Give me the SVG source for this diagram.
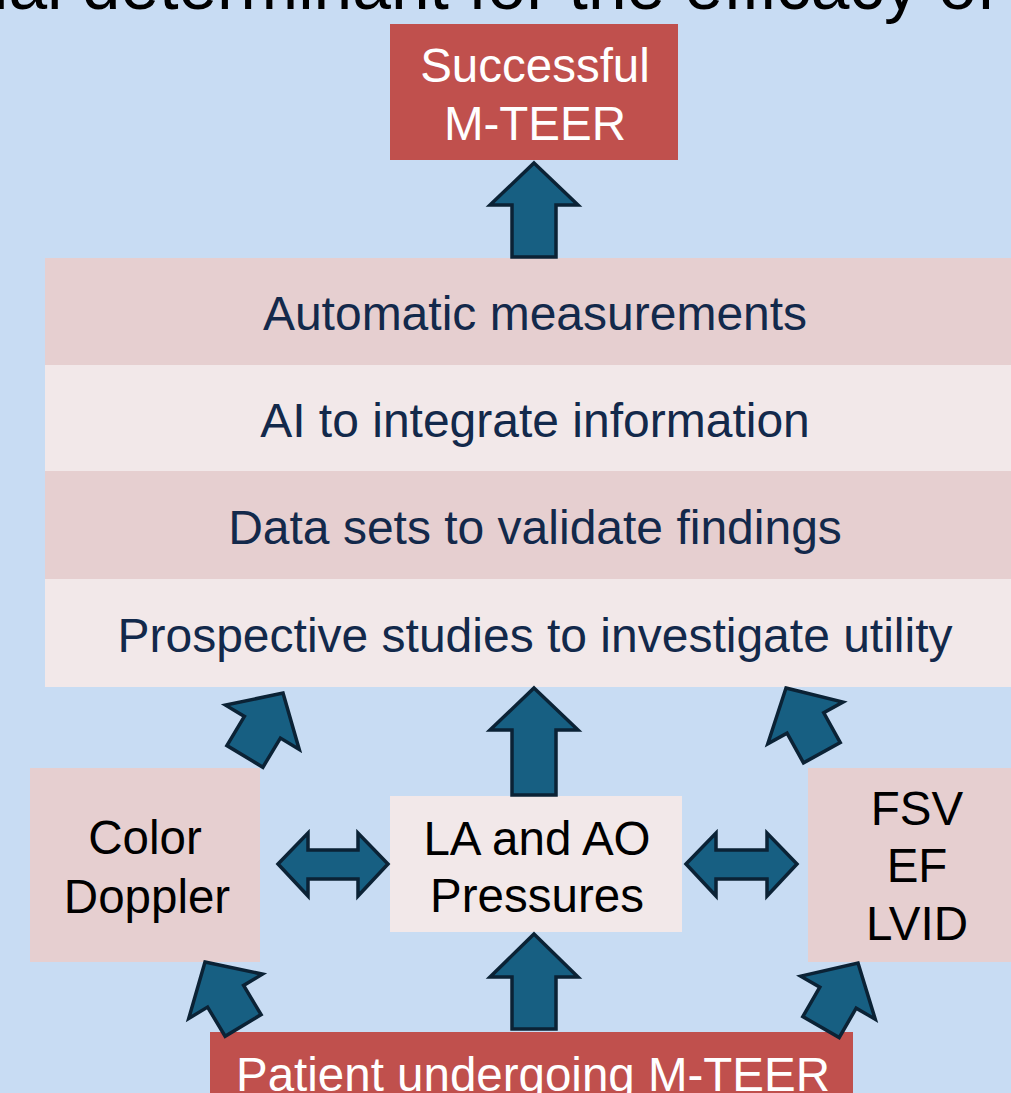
<svg xmlns="http://www.w3.org/2000/svg" width="1011" height="1093" viewBox="0 0 1011 1093">
<defs>
<style>
text{font-family:"Liberation Sans",Arial,sans-serif;font-size:47.5px;text-anchor:middle}
.band{fill:#13294B;font-size:48px}
.blk{fill:#000}
.wht{fill:#fff}
.arr{fill:#175F82;stroke:#0B2235;stroke-width:3.5;stroke-linejoin:miter}
.red{fill:#C0504D}
.pink{fill:#E6CFD0}
.lite{fill:#F2E8E9}
</style>
<path id="tilt" d="M0,0 L43,40 L21,40 L21,74 L-21,74 L-21,40 L-43,40 Z"/>
</defs>
<rect x="0" y="0" width="1011" height="1093" fill="#C8DCF3"/>
<text x="-7" y="9" style="font-size:69.5px;text-anchor:start" class="blk">ial determinant for the efficacy of</text>

<g id="successful">
<rect x="390" y="24" width="288" height="136" class="red"/>
<text x="535" y="82" class="wht">Successful</text>
<text x="535" y="140" class="wht">M-TEER</text>
</g>

<g id="bands">
<rect x="45" y="258" width="980" height="107" class="pink"/>
<text x="535" y="330" class="band">Automatic measurements</text>
<rect x="45" y="365" width="980" height="106" class="lite"/>
<text x="535" y="437" class="band">AI to integrate information</text>
<rect x="45" y="471" width="980" height="108" class="pink"/>
<text x="535" y="544" class="band">Data sets to validate findings</text>
<rect x="45" y="579" width="980" height="108" class="lite"/>
<text x="535" y="652" class="band">Prospective studies to investigate utility</text>
</g>

<g id="color-doppler">
<rect x="30" y="768" width="230" height="194" class="pink"/>
<text x="145" y="854" class="blk">Color</text>
<text x="147" y="913" class="blk">Doppler</text>
</g>

<g id="la-ao">
<rect x="390" y="796" width="292" height="136" class="lite"/>
<text x="537" y="855" class="blk">LA and AO</text>
<text x="537" y="912" class="blk">Pressures</text>
</g>

<g id="fsv">
<rect x="808" y="768" width="220" height="194" class="pink"/>
<text x="917" y="825" class="blk">FSV</text>
<text x="917" y="882" class="blk">EF</text>
<text x="917" y="940" class="blk">LVID</text>
</g>

<g id="patient">
<rect x="210" y="1032" width="643" height="70" class="red"/>
<text x="533" y="1091" class="wht">Patient undergoing M-TEER</text>
</g>

<g id="connectors">
<polygon class="arr" points="534,163 578,205 556,205 556,257 512,257 512,205 490,205"/>
<polygon class="arr" points="534,688 578,730 556,730 556,795 512,795 512,730 490,730"/>
<polygon class="arr" points="534,934 578,977 556,977 556,1029 512,1029 512,977 490,977"/>
<use href="#tilt" class="arr" transform="translate(283,693) rotate(31)"/>
<use href="#tilt" class="arr" transform="translate(786,688) rotate(-29)"/>
<use href="#tilt" class="arr" transform="translate(205,962) rotate(-31)"/>
<use href="#tilt" class="arr" transform="translate(858,963) rotate(30)"/>
<polygon class="arr" points="278,864 308,833 308,850 358,850 358,833 388,864 358,896 358,879 308,879 308,896"/>
<polygon class="arr" points="686,864 716,833 716,850 767,850 767,833 797,864 767,896 767,879 716,879 716,896"/>
</g>
</svg>
